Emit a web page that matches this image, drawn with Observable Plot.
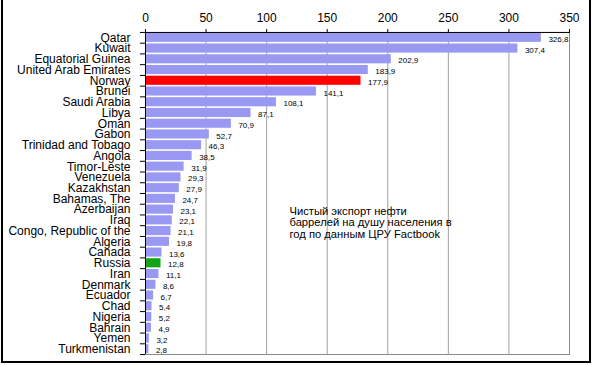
<!DOCTYPE html>
<html><head><meta charset="utf-8">
<script src="https://cdn.jsdelivr.net/npm/d3@7"></script>
<script src="https://cdn.jsdelivr.net/npm/@observablehq/plot@0.6"></script>
<style>
body{margin:0;background:#fff}
#wrap{position:relative;width:597px;height:366px;overflow:hidden}
#wrap svg{position:absolute;left:0;top:0}
#border{position:absolute;left:1px;top:-2px;width:590px;height:365px;border:2px solid #000;box-sizing:border-box}
</style>
</head><body>
<div id="wrap"><div id="border"></div></div>
<script>
const countries = ["Qatar","Kuwait","Equatorial Guinea","United Arab Emirates","Norway","Brunei","Saudi Arabia","Libya","Oman","Gabon","Trinidad and Tobago","Angola","Timor-Leste","Venezuela","Kazakhstan","Bahamas, The","Azerbaijan","Iraq","Congo, Republic of the","Algeria","Canada","Russia","Iran","Denmark","Ecuador","Chad","Nigeria","Bahrain","Yemen","Turkmenistan"];
const values = [326.8,307.4,202.9,183.9,177.9,141.1,108.1,87.1,70.9,52.7,46.3,38.5,31.9,29.3,27.9,24.7,23.1,22.1,21.1,19.8,13.6,12.8,11.1,8.6,6.7,5.4,5.2,4.9,3.2,2.8];
const highlight = {"Norway":"#ff0000","Russia":"#13a313"};
const xTicks = [0,50,100,150,200,250,300,350];
const note = "Чистый экспорт нефти\nбаррелей на душу населения в\nгод по данным ЦРУ Factbook";

const data = countries.map((c,i)=>({country:c, value:values[i], color: highlight[c] || "#9999f4"}));
const mTop = 32, mBottom = 12, H = 366;
const pInner = 0.15, pOuter = 0.07;
const step = (H - mTop - mBottom) / (countries.length - pInner + 2 * pOuter);
const fmt = v => d3.format(".1f")(v).replace(".", ",");

const chart = Plot.plot({
  width: 597, height: H,
  marginLeft: 145, marginRight: 28, marginTop: mTop, marginBottom: mBottom,
  style: {fontFamily: "Arial, 'Liberation Sans', sans-serif", background: "transparent"},
  x: {domain: [0, 350], axis: null, label: null},
  y: {domain: countries, paddingInner: pInner, paddingOuter: pOuter, round: false, axis: null, label: null},
  marks: [
    Plot.ruleX(xTicks.slice(1), {stroke: "#a0a0a0", strokeWidth: 1}),
    Plot.frame({stroke: "#8a8a8a"}),
    Plot.barX(data, {x: "value", y: "country", fill: "color"}),
    Plot.text(data, {x: "value", y: "country", text: d => fmt(d.value), textAnchor: "start", dx: 7, dy: 1.5, fontSize: 8, fill: "#000"}),
    Plot.axisX(xTicks, {anchor: "top", tickSize: 4, tickPadding: 7, fontSize: 12, stroke: "#000", fill: "#000", tickFormat: d => d, label: null}),
    Plot.ruleY([countries[0]], {y: d => d, x1: 0, x2: 350, stroke: "#000", dy: -step/2}),
    Plot.ruleX([0], {stroke: "#000"}),
    Plot.ruleY(countries, {y: d => d, x1: -4.2, x2: 0, stroke: "#000", dy: -step/2}),
    Plot.ruleY([countries[countries.length-1]], {y: d => d, x1: -4.2, x2: 0, stroke: "#000", dy: step/2}),
    Plot.axisY({anchor: "left", tickSize: 0, tickPadding: 15, fontSize: 12, fill: "#000", label: null}),
    Plot.text([note], {frameAnchor: "top-left", dx: 144, dy: 174, text: d => d, textAnchor: "start", lineAnchor: "top", fontSize: 11.2, lineHeight: 1.03, fill: "#000"})
  ]
});
document.getElementById("wrap").prepend(chart);
</script>
</body></html>
